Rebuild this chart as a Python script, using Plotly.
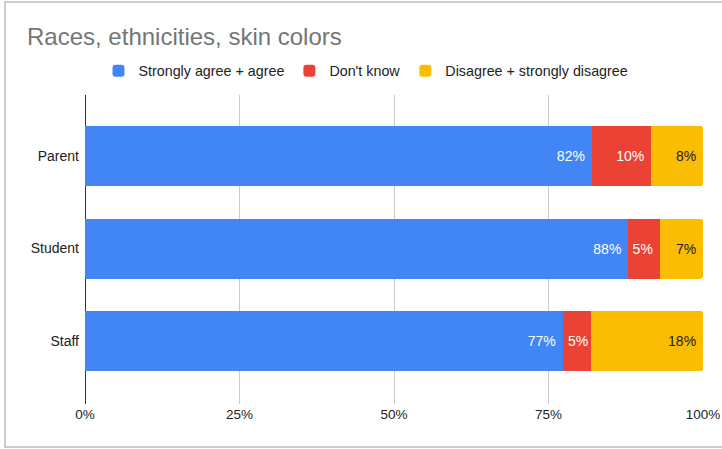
import plotly.graph_objects as go

groups = ["Parent", "Student", "Staff"]
agree = [82.0, 87.9, 77.3]
dont_know = [9.6, 5.1, 4.6]
disagree = [8.4, 7.0, 18.1]
series_names = ["Strongly agree + agree", "Don't know", "Disagree + strongly disagree"]
colors = ["#4285F4", "#EA4335", "#FBBC04"]
text_colors = ["#ffffff", "#ffffff", "#222222"]
tick_vals = [0, 25, 50, 75, 100]
tick_text = ["0%", "25%", "50%", "75%", "100%"]

FONT = "Arial, Liberation Sans, sans-serif"

def label(v):
    # pad wider segments slightly from the bar end, as in the original
    return f"{v:.0f}%" + ("\u00a0" if v >= 5 else "")

fig = go.Figure()
for name, vals, col, tcol in zip(series_names, [agree, dont_know, disagree], colors, text_colors):
    fig.add_trace(go.Bar(
        y=groups, x=vals, name=name, orientation="h",
        marker=dict(color=col, line=dict(width=0)),
        text=[label(v) for v in vals],
        textposition="inside", insidetextanchor="end",
        textangle=0, constraintext="none",
        textfont=dict(color=tcol, size=14, family=FONT),
        width=0.65, hoverinfo="skip",
    ))

L, R, T, B = 85, 19, 95, 45
W, H = 722, 449
pw, ph = W - L - R, H - T - B

def px_x(p):
    return (p - L) / pw

def px_y(p):
    return (H - B - p) / ph

fig.update_layout(
    width=W, height=H,
    barmode="stack",
    barcornerradius=3,
    margin=dict(l=L, r=R, t=T, b=B, autoexpand=False),
    paper_bgcolor="white", plot_bgcolor="white",
    font=dict(family=FONT, size=14, color="#222222"),
    title=dict(text="Races, ethnicities, skin colors", x=27 / W, xanchor="left",
               xref="container", yref="container", y=1 - 37 / H, yanchor="middle",
               font=dict(size=24, color="#757575", family=FONT)),
    legend=dict(orientation="h", xref="container", yref="container",
                x=366 / W, xanchor="center", y=1 - 71 / H, yanchor="middle",
                font=dict(size=14.3, color="#222222", family=FONT),
                traceorder="normal", itemclick=False),
    xaxis=dict(range=[0, 100], tickvals=tick_vals, ticktext=tick_text,
               showgrid=True, gridcolor="#cccccc", gridwidth=1,
               zeroline=True, zerolinecolor="#333333", zerolinewidth=1,
               showline=False, ticks="", fixedrange=True,
               tickfont=dict(size=13.5, color="#222222")),
    yaxis=dict(type="category", categoryorder="array", categoryarray=groups,
               range=[2.68, -0.66], showgrid=False, zeroline=False, ticks="",
               ticklabelstandoff=5,
               tickfont=dict(size=14, color="#222222"), fixedrange=True),
    showlegend=True,
)

# card outline (screenshot frame)
fig.add_shape(type="rect", xref="paper", yref="paper",
              x0=px_x(5), x1=px_x(740), y0=px_y(447), y1=px_y(2),
              line=dict(color="#bdbdbd", width=1.5), fillcolor="rgba(0,0,0,0)", layer="below")

fig.write_html("out.html")
